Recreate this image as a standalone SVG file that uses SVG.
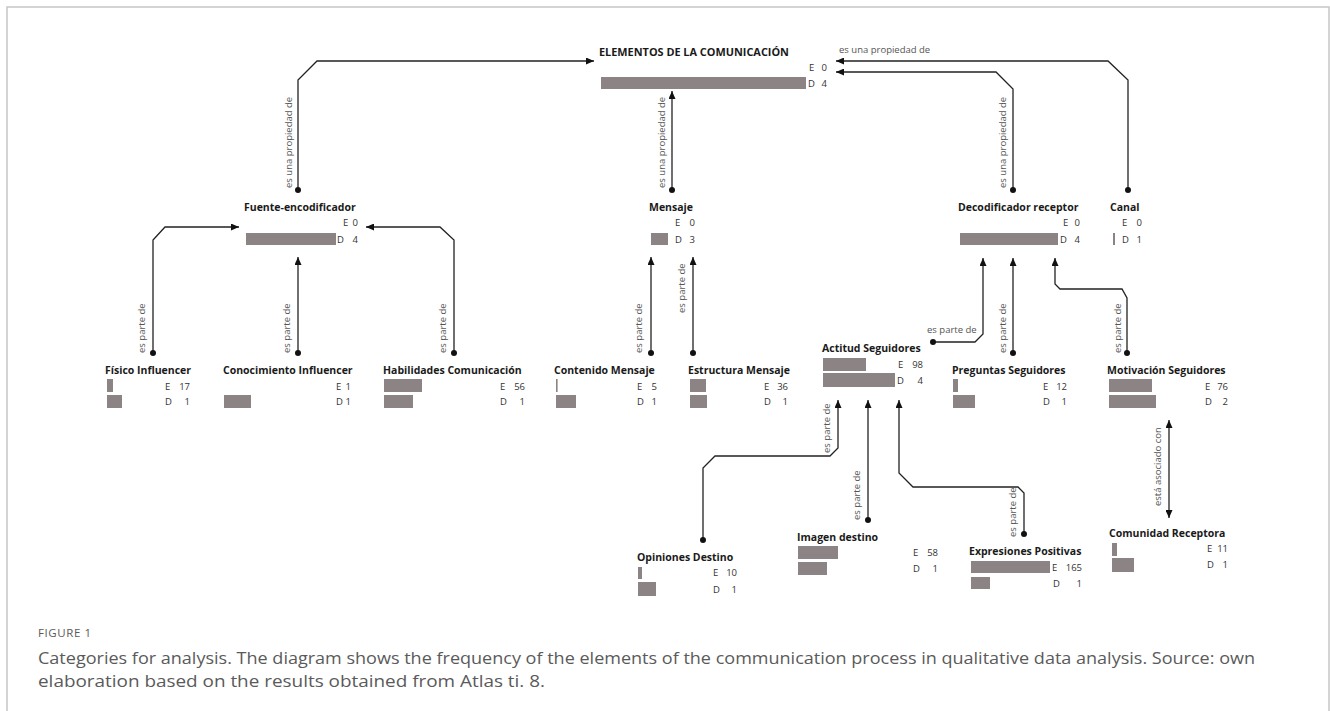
<svg xmlns="http://www.w3.org/2000/svg" width="1330" height="711" viewBox="0 0 1330 711">
<defs>
<style>
.t{font-family:"Open Sans","Noto Sans",sans-serif;font-weight:700;font-size:10.5px;fill:#1a1a1a}
.n{font-family:"Open Sans","Noto Sans",sans-serif;font-size:9.5px;fill:#333}
.l{font-family:"Open Sans","Noto Sans",sans-serif;font-size:9.5px;fill:#555}
.b{fill:#8b8384}
.c{fill:none;stroke:#222;stroke-width:1.3}
.cap{font-family:"Open Sans","Noto Sans",sans-serif;fill:#5a5a5a}
</style>
<marker id="ar" viewBox="0 0 8 7" refX="8" refY="3.5" markerWidth="8" markerHeight="7" markerUnits="userSpaceOnUse" orient="auto-start-reverse"><path d="M0,0 L8,3.5 L0,7 z" fill="#111"/></marker>
<marker id="dt" viewBox="0 0 6.4 6.4" refX="3.2" refY="3.2" markerWidth="6.4" markerHeight="6.4" markerUnits="userSpaceOnUse"><circle cx="3.2" cy="3.2" r="3" fill="#111"/></marker>
</defs>
<rect width="1330" height="711" fill="#fff"/>
<path d="M7,711 V7 H1329 V711" fill="none" stroke="#c6c6c6" stroke-width="1.5"/>

<g id="connectors">
<path class="c" d="M298,190 V80 L317,61 H594" marker-start="url(#dt)" marker-end="url(#ar)"/>
<path class="c" d="M672,190 V91" marker-start="url(#dt)" marker-end="url(#ar)"/>
<path class="c" d="M1013,190 V89 L996,72 H836" marker-start="url(#dt)" marker-end="url(#ar)"/>
<path class="c" d="M1128,190 V80 L1108,61 H836" marker-start="url(#dt)" marker-end="url(#ar)"/>
<path class="c" d="M153,353 V240 L165,227 H239" marker-start="url(#dt)" marker-end="url(#ar)"/>
<path class="c" d="M298,353 V257" marker-start="url(#dt)" marker-end="url(#ar)"/>
<path class="c" d="M454,353 V240 L440,227 H366" marker-start="url(#dt)" marker-end="url(#ar)"/>
<path class="c" d="M651,353 V257" marker-start="url(#dt)" marker-end="url(#ar)"/>
<path class="c" d="M693,353 V257" marker-start="url(#dt)" marker-end="url(#ar)"/>
<path class="c" d="M933,342 H975 L983,334 V258" marker-start="url(#dt)" marker-end="url(#ar)"/>
<path class="c" d="M1013,353 V258" marker-start="url(#dt)" marker-end="url(#ar)"/>
<path class="c" d="M1127,353 V298 L1122,289 H1060 L1055,284 V258" marker-start="url(#dt)" marker-end="url(#ar)"/>
<path class="c" d="M703,540 V468 L715,456 H830 L838,448 V400" marker-start="url(#dt)" marker-end="url(#ar)"/>
<path class="c" d="M868,520 V400" marker-start="url(#dt)" marker-end="url(#ar)"/>
<path class="c" d="M1024,534 V493 L1018,487 H913 L899,473 V400" marker-start="url(#dt)" marker-end="url(#ar)"/>
<path class="c" d="M1169,420 V518" marker-start="url(#ar)" marker-end="url(#ar)"/>
<text class="l" x="839" y="53">es una propiedad de</text>
<text class="l" transform="translate(292,188) rotate(-90)">es una propiedad de</text>
<text class="l" transform="translate(665,188) rotate(-90)">es una propiedad de</text>
<text class="l" transform="translate(1006,188) rotate(-90)">es una propiedad de</text>
<text class="l" transform="translate(145,353) rotate(-90)">es parte de</text>
<text class="l" transform="translate(290,353) rotate(-90)">es parte de</text>
<text class="l" transform="translate(446,353) rotate(-90)">es parte de</text>
<text class="l" transform="translate(642,353) rotate(-90)">es parte de</text>
<text class="l" transform="translate(685,313) rotate(-90)">es parte de</text>
<text class="l" x="927" y="333">es parte de</text>
<text class="l" transform="translate(1006,353) rotate(-90)">es parte de</text>
<text class="l" transform="translate(1121,353) rotate(-90)">es parte de</text>
<text class="l" transform="translate(830,453) rotate(-90)">es parte de</text>
<text class="l" transform="translate(860,520) rotate(-90)">es parte de</text>
<text class="l" transform="translate(1016,537) rotate(-90)">es parte de</text>
<text class="l" transform="translate(1161,506) rotate(-90)">está asociado con</text>
</g>

<g id="n-elementos">
<text class="t" x="599" y="56" style="font-size:10.9px">ELEMENTOS DE LA COMUNICACIÓN</text>
<text class="n" x="809" y="71">E</text><text class="n" x="827" y="71" text-anchor="end">0</text>
<rect class="b" x="601" y="77" width="205" height="12"/>
<text class="n" x="808" y="87">D</text><text class="n" x="827" y="87" text-anchor="end">4</text>
</g>

<g id="n-fuente">
<text class="t" x="244" y="211">Fuente-encodificador</text>
<text class="n" x="343" y="226">E</text><text class="n" x="358" y="226" text-anchor="end">0</text>
<rect class="b" x="246" y="233" width="90" height="12"/>
<text class="n" x="337" y="243">D</text><text class="n" x="358" y="243" text-anchor="end">4</text>
</g>

<g id="n-mensaje">
<text class="t" x="649" y="211">Mensaje</text>
<text class="n" x="675" y="226">E</text><text class="n" x="695" y="226" text-anchor="end">0</text>
<rect class="b" x="651" y="233" width="17" height="12"/>
<text class="n" x="675" y="243">D</text><text class="n" x="695" y="243" text-anchor="end">3</text>
</g>

<g id="n-decodificador">
<text class="t" x="958" y="211">Decodificador receptor</text>
<text class="n" x="1063" y="226">E</text><text class="n" x="1080" y="226" text-anchor="end">0</text>
<rect class="b" x="960" y="233" width="98" height="12"/>
<text class="n" x="1060" y="243">D</text><text class="n" x="1080" y="243" text-anchor="end">4</text>
</g>

<g id="n-canal">
<text class="t" x="1110" y="211">Canal</text>
<text class="n" x="1122" y="226">E</text><text class="n" x="1142" y="226" text-anchor="end">0</text>
<rect class="b" x="1113" y="233" width="2" height="12"/>
<text class="n" x="1122" y="243">D</text><text class="n" x="1142" y="243" text-anchor="end">1</text>
</g>

<g id="n-fisico">
<text class="t" x="105" y="374">Físico Influencer</text>
<rect class="b" x="107" y="379" width="6" height="13"/>
<text class="n" x="165" y="390">E</text><text class="n" x="190" y="390" text-anchor="end">17</text>
<rect class="b" x="107" y="395" width="15" height="13"/>
<text class="n" x="165" y="405">D</text><text class="n" x="190" y="405" text-anchor="end">1</text>
</g>

<g id="n-conocimiento">
<text class="t" x="223" y="374">Conocimiento Influencer</text>
<text class="n" x="336" y="390">E</text><text class="n" x="351" y="390" text-anchor="end">1</text>
<rect class="b" x="224" y="395" width="27" height="13"/>
<text class="n" x="336" y="405">D</text><text class="n" x="351" y="405" text-anchor="end">1</text>
</g>

<g id="n-habilidades">
<text class="t" x="383" y="374">Habilidades Comunicación</text>
<rect class="b" x="384" y="379" width="38" height="13"/>
<text class="n" x="500" y="390">E</text><text class="n" x="525" y="390" text-anchor="end">56</text>
<rect class="b" x="384" y="395" width="29" height="13"/>
<text class="n" x="500" y="405">D</text><text class="n" x="525" y="405" text-anchor="end">1</text>
</g>

<g id="n-contenido">
<text class="t" x="554" y="374">Contenido Mensaje</text>
<rect class="b" x="556" y="379" width="1.6" height="13"/>
<text class="n" x="637" y="390">E</text><text class="n" x="657" y="390" text-anchor="end">5</text>
<rect class="b" x="556" y="395" width="20" height="13"/>
<text class="n" x="637" y="405">D</text><text class="n" x="657" y="405" text-anchor="end">1</text>
</g>

<g id="n-estructura">
<text class="t" x="688" y="374">Estructura Mensaje</text>
<rect class="b" x="690" y="379" width="16" height="13"/>
<text class="n" x="764" y="390">E</text><text class="n" x="788" y="390" text-anchor="end">36</text>
<rect class="b" x="690" y="395" width="17" height="13"/>
<text class="n" x="764" y="405">D</text><text class="n" x="788" y="405" text-anchor="end">1</text>
</g>

<g id="n-actitud">
<text class="t" x="822" y="352">Actitud Seguidores</text>
<rect class="b" x="823" y="358" width="43" height="13"/>
<text class="n" x="898" y="368">E</text><text class="n" x="923" y="368" text-anchor="end">98</text>
<rect class="b" x="823" y="373" width="72" height="14"/>
<text class="n" x="897" y="384">D</text><text class="n" x="923" y="384" text-anchor="end">4</text>
</g>

<g id="n-preguntas">
<text class="t" x="952" y="374">Preguntas Seguidores</text>
<rect class="b" x="953" y="379" width="5" height="13"/>
<text class="n" x="1043" y="390">E</text><text class="n" x="1067" y="390" text-anchor="end">12</text>
<rect class="b" x="953" y="395" width="22" height="13"/>
<text class="n" x="1043" y="405">D</text><text class="n" x="1067" y="405" text-anchor="end">1</text>
</g>

<g id="n-motivacion">
<text class="t" x="1107" y="374">Motivación Seguidores</text>
<rect class="b" x="1109" y="379" width="43" height="13"/>
<text class="n" x="1205" y="390">E</text><text class="n" x="1228" y="390" text-anchor="end">76</text>
<rect class="b" x="1109" y="395" width="47" height="13"/>
<text class="n" x="1205" y="405">D</text><text class="n" x="1228" y="405" text-anchor="end">2</text>
</g>

<g id="n-opiniones">
<text class="t" x="637" y="561">Opiniones Destino</text>
<rect class="b" x="638" y="567" width="4" height="12"/>
<text class="n" x="713" y="576">E</text><text class="n" x="737" y="576" text-anchor="end">10</text>
<rect class="b" x="638" y="582" width="18" height="14"/>
<text class="n" x="713" y="593">D</text><text class="n" x="737" y="593" text-anchor="end">1</text>
</g>

<g id="n-imagen">
<text class="t" x="797" y="541">Imagen destino</text>
<rect class="b" x="798" y="546" width="40" height="13"/>
<text class="n" x="913" y="556">E</text><text class="n" x="938" y="556" text-anchor="end">58</text>
<rect class="b" x="798" y="562" width="29" height="13"/>
<text class="n" x="913" y="572">D</text><text class="n" x="938" y="572" text-anchor="end">1</text>
</g>

<g id="n-expresiones">
<text class="t" x="969" y="555">Expresiones Positivas</text>
<rect class="b" x="971" y="561" width="79" height="12"/>
<text class="n" x="1052" y="571">E</text><text class="n" x="1082" y="571" text-anchor="end">165</text>
<rect class="b" x="971" y="577" width="19" height="12"/>
<text class="n" x="1053" y="587">D</text><text class="n" x="1082" y="587" text-anchor="end">1</text>
</g>

<g id="n-comunidad">
<text class="t" x="1109" y="537">Comunidad Receptora</text>
<rect class="b" x="1112" y="543" width="5" height="13"/>
<text class="n" x="1207" y="552">E</text><text class="n" x="1228" y="552" text-anchor="end">11</text>
<rect class="b" x="1112" y="558" width="22" height="14"/>
<text class="n" x="1207" y="568">D</text><text class="n" x="1228" y="568" text-anchor="end">1</text>
</g>

<g id="caption">
<text class="cap" x="38" y="637" style="font-size:11.5px;letter-spacing:0.6px">FIGURE 1</text>
<text class="cap" x="38" y="664" style="font-size:16px" textLength="1217" lengthAdjust="spacingAndGlyphs">Categories for analysis. The diagram shows the frequency of the elements of the communication process in qualitative data analysis. Source: own</text>
<text class="cap" x="38" y="687" style="font-size:16px" textLength="507" lengthAdjust="spacingAndGlyphs">elaboration based on the results obtained from Atlas ti. 8.</text>
</g>
</svg>
